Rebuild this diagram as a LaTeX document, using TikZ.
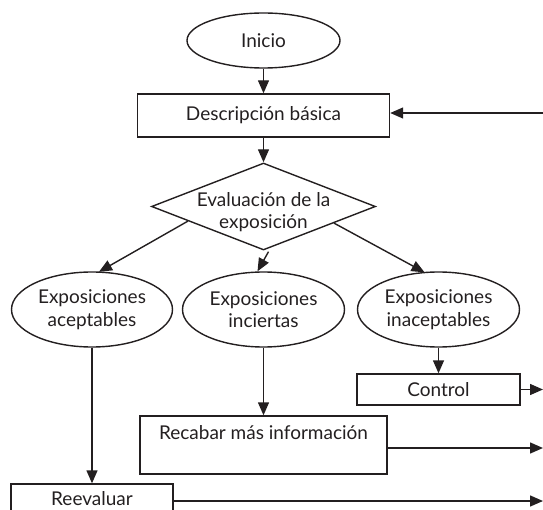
\documentclass[tikz,border=0pt]{standalone}
\usepackage{fontspec}
\setmainfont{Lato}
\usetikzlibrary{shapes.geometric,arrows.meta,calc}
\definecolor{ink}{RGB}{35,31,32}
\begin{document}
\begin{tikzpicture}[x=1pt,y=-1pt, line width=1.4pt,
  every node/.style={font=\fontsize{19}{22.5}\selectfont, text=ink},
  arr/.style={draw=ink, -{Triangle[length=13pt,width=11pt]}},
  oval/.style={ellipse, draw=ink, inner sep=0pt, align=center},
  box/.style={rectangle, draw=ink, inner sep=0pt},
]
\path[use as bounding box, clip] (0,0) rectangle (543,510);
% nodes
\node[oval, minimum width=153pt, minimum height=55pt] (inicio) at (263.5,40.5) {Inicio};
\node[box, minimum width=252pt, minimum height=43pt] (desc) at (263.5,115.5) {Descripción básica};
\node[diamond, draw=ink, inner sep=0pt, minimum width=224pt, minimum height=87pt] (eval) at (263.5,206.5) {};
\node[align=center, inner sep=0pt] (evaltxt) at (263.5,212) {Evaluación de la\\exposición};
\node[oval, minimum width=161pt, minimum height=75pt] (acep) at (92,309.5) {Exposiciones\\aceptables};
\node[oval, minimum width=162pt, minimum height=75pt] (inci) at (263.5,309.5) {Exposiciones\\inciertas};
\node[oval, minimum width=162pt, minimum height=75pt] (inac) at (438.5,309.5) {Exposiciones\\inaceptables};
\node[box, minimum width=163pt, minimum height=31pt] (control) at (438.5,389.5) {Control};
\node[box, minimum width=247pt, minimum height=58pt] (recabar) at (263.5,445) {};
\node[anchor=base, inner sep=0pt] (recabartxt) at (263.5,439) {Recabar más información};
\node[box, minimum width=162pt, minimum height=30pt] (reev) at (92,499) {Reevaluar};
% free ends at the right edge
\coordinate (edgeD) at (543,113);
\coordinate (edgeC) at (543,389.5);
\coordinate (edgeR) at (543,448);
\coordinate (edgeV) at (543,501);
% connectors
\draw[arr] (inicio) -- (desc);
\draw[arr] (desc) -- (eval);
\draw[arr] (edgeD) -- (edgeD -| desc.east);
\draw[arr] ($(eval.west)!0.33!(eval.south)$) -- ($(acep.north)+(7,0.5)$);
\draw[arr] ($(eval.south)+(5,1)$) -- ($(inci.north)+(-6,0)$);
\draw[arr] ($(eval.east)!0.375!(eval.south)$) -- ($(inac.north)+(-14,1)$);
\draw[arr] (acep) -- (reev);
\draw[arr] (inci) -- (recabar);
\draw[arr] (inac) -- (control);
\draw[arr] (control) -- (edgeC);
\draw[arr] ([yshift=-3pt]recabar.east) -- (edgeR);
\draw[arr] ([yshift=-2pt]reev.east) -- (edgeV);
\end{tikzpicture}
\end{document}
